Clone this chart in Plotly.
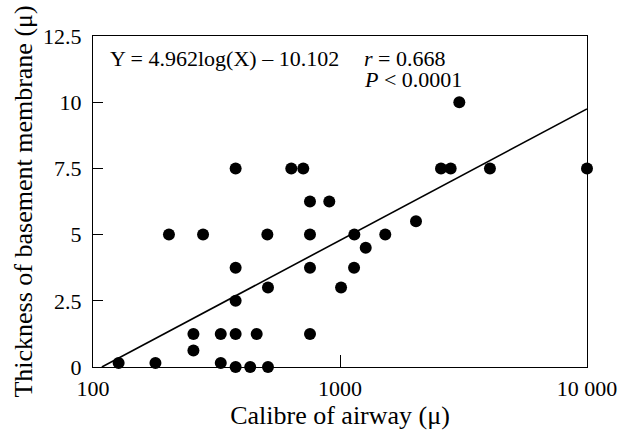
import math
import plotly.graph_objects as go

# Data
calibre = [127, 179, 203, 255, 255, 279, 329, 329, 378, 378, 378, 378, 378,
           433, 460, 508, 511, 511, 635, 710, 756, 756, 756, 756, 905, 1010,
           1143, 1140, 1271, 1525, 2031, 2564, 2806, 3041, 4046, 10000]
thickness = [0.15, 0.15, 5, 1.25, 0.62, 5, 1.25, 0.15, 7.5, 3.75, 2.5, 1.25, 0,
             0, 1.25, 5, 3, 0, 7.5, 7.5, 6.25, 5, 3.75, 1.25, 6.25, 3,
             5, 3.75, 4.5, 5, 5.5, 7.5, 7.5, 10, 7.5, 7.5]

# Regression line: Y = 4.962 log(X) - 10.102
slope = 4.962
intercept = -10.102
line_x = [108.6, 10000]
line_y = [slope * math.log10(v) + intercept for v in line_x]

x_tickvals = [100, 1000, 10000]
x_ticktext = ["100", "1000", "10 000"]
y_tickvals = [0, 2.5, 5, 7.5, 10, 12.5]
y_ticktext = ["0", "2.5", "5", "7.5", "10", "12.5"]

FONT = "Liberation Serif"
FS = 22

fig = go.Figure()
fig.add_trace(go.Scatter(x=line_x, y=line_y, mode="lines",
                         line=dict(color="black", width=1.6),
                         showlegend=False, hoverinfo="skip"))
fig.add_trace(go.Scatter(x=calibre, y=thickness, mode="markers",
                         marker=dict(color="black", size=12),
                         cliponaxis=False, showlegend=False))

fig.update_layout(
    width=621, height=430,
    margin=dict(l=93, r=34, t=36, b=63),
    paper_bgcolor="white", plot_bgcolor="white",
    font=dict(family=FONT, size=FS, color="black"),
    xaxis=dict(type="log", range=[2, 4], tickvals=x_tickvals, ticktext=x_ticktext,
               ticks="inside", ticklen=12, tickwidth=1.2, tickcolor="black",
               ticklabelstandoff=1,
               showline=True, linecolor="black", linewidth=1.4, mirror=True,
               showgrid=False, zeroline=False, automargin=False,
               title=dict(text="Calibre of airway (μ)", standoff=4)),
    yaxis=dict(range=[0, 12.5], tickvals=y_tickvals, ticktext=y_ticktext,
               ticks="inside", ticklen=10, tickwidth=1.2, tickcolor="black",
               ticklabelstandoff=6,
               showline=True, linecolor="black", linewidth=1.4, mirror=True,
               showgrid=False, zeroline=False, automargin=False,
               title=dict(text="Thickness of basement membrane (μ)", standoff=2)),
    annotations=[
        dict(text="Y = 4.962log(X) – 10.102", xref="paper", yref="paper",
             x=0.030, y=0.9335, xanchor="left", yanchor="middle", showarrow=False,
             font=dict(family=FONT, size=FS, color="black")),
        dict(text="<i>r</i> = 0.668", xref="paper", yref="paper",
             x=0.5446, y=0.9335, xanchor="left", yanchor="middle", showarrow=False,
             font=dict(family=FONT, size=FS, color="black")),
        dict(text="<i>P</i> < 0.0001", xref="paper", yref="paper",
             x=0.5446, y=0.870, xanchor="left", yanchor="middle", showarrow=False,
             font=dict(family=FONT, size=FS, color="black")),
    ],
)

fig.write_html("out.html", config={"displayModeBar": False},
               post_script="document.body.style.margin='0';")
